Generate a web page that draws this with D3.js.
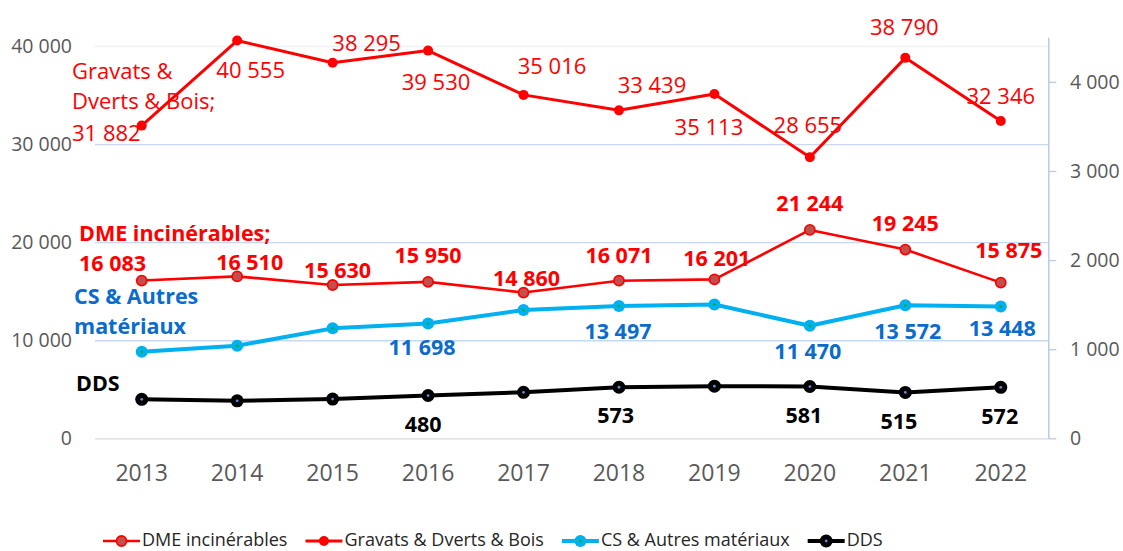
<!DOCTYPE html>
<html><head><meta charset="utf-8">
<script src="https://cdn.jsdelivr.net/npm/d3@7"></script>
<style>body{margin:0;background:#fff}svg{display:block;font-family:"Open Sans",sans-serif}</style>
</head><body><svg id="c" width="1123" height="551"></svg>
<script>
// ---------- data ----------
const years   = [2013,2014,2015,2016,2017,2018,2019,2020,2021,2022];
const gravats = [31882,40555,38295,39530,35016,33439,35113,28655,38790,32346];
const dme     = [16083,16510,15630,15950,14860,16071,16201,21244,19245,15875];
const cs      = [8830,9440,11210,11698,13080,13497,13650,11470,13572,13448];
const dds     = [437,420,440,480,516,573,585,581,515,572];
const leftTicks  = [0,10000,20000,30000,40000];
const rightTicks = [0,1000,2000,3000,4000];
const names = ["DME incinérables","Gravats & Dverts & Bois","CS & Autres matériaux","DDS"];
const csShown  = [3,5,7,8,9];
const ddsShown = [3,5,7,8,9];

// ---------- layout (label offsets relative to points) ----------
const gravOff = [null,[13.5,29.4],[34,-19],[8,32],[28.5,-29],[33,-25],[-5.5,33],[-2,-32],[-1,-31],[0,-25]];
const dmeOff  = [null,[12.5,-14],[5,-15],[0,-26],[3,-13.6],[0,-25.7],[2.4,-21],[0,-26],[0,-25.6],[8,-32]];
const csOff   = {3:[-6,23.7],5:[-1,25.8],7:[-2,26],8:[2.5,26.5],9:[1.5,22]};
const ddsOff  = {3:[-5,28.5],5:[-3.4,28.5],7:[-6,28.5],8:[-6.5,28.6],9:[-1,28.7]};

const fr = d3.formatLocale({decimal:",",thousands:" ",grouping:[3],currency:["","€"]});
const fmt = fr.format(",d");

const svg = d3.select("#c");
const x  = d3.scalePoint().domain(years).range([94,1048.5]).padding(0.5);
const yL = d3.scaleLinear().domain([0,40000]).range([438.3,46]);
const yR = d3.scaleLinear().domain([0,4500]).range([438.3,37.3]);

// gridlines (left axis)
const gridCol = v => v===0 ? "#d6dbe3" : (v===40000 ? "#eef1f6" : "#c8d8ee");
const gAx = svg.append("g").attr("transform","translate(95,0)")
  .call(d3.axisLeft(yL).tickValues(leftTicks).tickSize(-953).tickFormat(""));
gAx.select(".domain").remove();
gAx.selectAll(".tick line").attr("stroke",d=>gridCol(d)).attr("stroke-width",1.3);

// left tick labels
svg.append("g").selectAll("text").data(leftTicks).join("text")
  .attr("x",72).attr("y",d=>yL(d)).attr("dy","0.35em").attr("text-anchor","end")
  .attr("font-size",19.5).attr("fill","#595959").text(d=>fmt(d));

// right axis
const rAx = svg.append("g").attr("transform","translate(1048.3,0)")
  .call(d3.axisRight(yR).tickValues(rightTicks).tickSize(8).tickSizeOuter(0).tickFormat(""));
rAx.select(".domain").attr("stroke","#b9cbe6").attr("stroke-width",1.5);
rAx.selectAll(".tick line").attr("stroke","#b9cbe6").attr("stroke-width",1.3);
svg.append("g").selectAll("text").data(rightTicks).join("text")
  .attr("x",1070).attr("y",d=>yR(d)).attr("dy","0.35em").attr("text-anchor","start")
  .attr("font-size",19.5).attr("fill","#595959").text(d=>fmt(d));

// x labels
svg.append("g").selectAll("text").data(years).join("text")
  .attr("x",d=>x(d)).attr("y",473).attr("dy","0.35em").attr("text-anchor","middle")
  .attr("font-size",23).attr("fill","#595959").text(d=>d);

// ---------- series ----------
const series = [
  {key:"dme", vals:dme, y:yL, color:"#ff0000", w:2.6},
  {key:"grav", vals:gravats, y:yL, color:"#ff0000", w:3},
  {key:"cs", vals:cs, y:yL, color:"#00b0f0", w:4},
  {key:"dds", vals:dds, y:yR, color:"#000000", w:4}
];
function marker(g, key, cx, cy){
  if(key==="dme"){ g.append("circle").attr("cx",cx).attr("cy",cy).attr("r",5).attr("fill","#c0504d").attr("stroke","#ff0000").attr("stroke-width",1.8); }
  else if(key==="grav"){ g.append("circle").attr("cx",cx).attr("cy",cy).attr("r",5).attr("fill","#ff0000"); }
  else if(key==="cs"){ g.append("circle").attr("cx",cx).attr("cy",cy).attr("r",6).attr("fill","#00b0f0");
    g.append("circle").attr("cx",cx).attr("cy",cy).attr("r",1.5).attr("fill","#00b050"); }
  else { g.append("circle").attr("cx",cx).attr("cy",cy).attr("r",6.5).attr("fill","#000");
    g.append("circle").attr("cx",cx).attr("cy",cy).attr("r",1.4).attr("fill","#5b8fd0"); }
}
series.forEach(s=>{
  const line = d3.line().x((d,i)=>x(years[i])).y(d=>s.y(d));
  svg.append("path").datum(s.vals).attr("d",line).attr("fill","none")
    .attr("stroke",s.color).attr("stroke-width",s.w).attr("stroke-linejoin","round");
  const g = svg.append("g");
  s.vals.forEach((v,i)=>marker(g,s.key,x(years[i]),s.y(v)));
});

// ---------- labels ----------
const L = svg.append("g");
function lab(txt,cx,cy,opt){
  L.append("text").attr("x",cx).attr("y",cy).attr("dy","0.35em")
   .attr("text-anchor",opt.anchor||"middle").attr("font-size",opt.size)
   .attr("font-weight",opt.weight).attr("fill",opt.color).text(txt);
}
const gOpt={size:22,weight:400,color:"#ff0000"};
const dOpt={size:21.5,weight:700,color:"#ff0000"};
const cOpt={size:21.5,weight:700,color:"#0a6ccc"};
const kOpt={size:21.5,weight:700,color:"#000000"};

// Gravats
gravats.forEach((v,i)=>{
  const px=x(years[i]), py=yL(v);
  if(i===0){
    const st={...gOpt,anchor:"start"};
    lab("Gravats &",px-69.7,py-53.9,st);
    lab("Dverts & Bois;",px-69.7,py-23.9,st);
    lab(fmt(v),px-69.7,py+7.4,st);
  } else lab(fmt(v),px+gravOff[i][0],py+gravOff[i][1],gOpt);
});
// DME
dme.forEach((v,i)=>{
  const px=x(years[i]), py=yL(v);
  if(i===0){
    const st={...dOpt,anchor:"start"};
    lab(names[0]+";",px-62.7,py-47.3,st);
    lab(fmt(v),px-62.7,py-17.3,st);
  } else lab(fmt(v),px+dmeOff[i][0],py+dmeOff[i][1],dOpt);
});
// CS
{
  const px=x(years[0]), py=yL(cs[0]);
  const st={...cOpt,anchor:"start"};
  lab("CS & Autres",px-67.7,py-55,st);
  lab("matériaux",px-67.7,py-25,st);
  csShown.forEach(i=>lab(fmt(cs[i]),x(years[i])+csOff[i][0],yL(cs[i])+csOff[i][1],cOpt));
}
// DDS
{
  const px=x(years[0]), py=yR(dds[0]);
  lab(names[3],px-65.7,py-16,{...kOpt,anchor:"start"});
  ddsShown.forEach(i=>lab(fmt(dds[i]),x(years[i])+ddsOff[i][0],yR(dds[i])+ddsOff[i][1],kOpt));
}

// ---------- legend ----------
const leg = svg.append("g");
let lx = 103; const ly = 540;
series.forEach((s,k)=>{
  leg.append("line").attr("x1",lx).attr("x2",lx+37).attr("y1",ly+1).attr("y2",ly+1)
    .attr("stroke",s.color).attr("stroke-width",s.w);
  marker(leg,s.key,lx+18.5,ly+1);
  const t = leg.append("text").attr("x",lx+39).attr("y",ly).attr("dy","0.35em")
    .attr("font-size",18).attr("fill","#262626").text(names[k]);
  lx = lx+39+t.node().getComputedTextLength()+18;
});
</script></body></html>
